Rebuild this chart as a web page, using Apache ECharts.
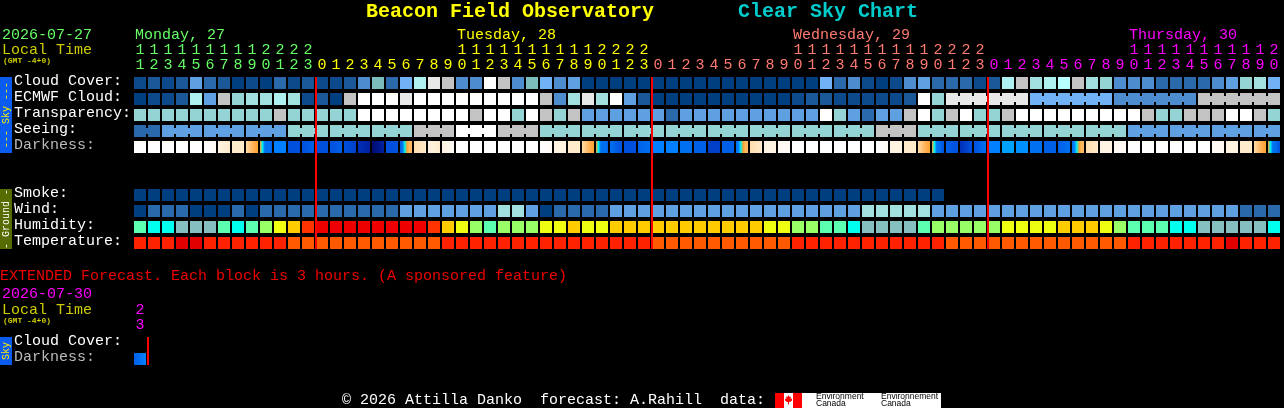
<!DOCTYPE html>
<html><head><meta charset="utf-8">
<style>html,body{margin:0;padding:0;background:#000}#c{width:1284px;height:408px}</style>
<script src="https://cdn.jsdelivr.net/npm/echarts@6/dist/echarts.min.js"></script>
</head><body><div id="c"></div>
<script>
const hours = [11,12,13,14,15,16,17,18,19,20,21,22,23,
 0,1,2,3,4,5,6,7,8,9,10,11,12,13,14,15,16,17,18,19,20,21,22,23,
 0,1,2,3,4,5,6,7,8,9,10,11,12,13,14,15,16,17,18,19,20,21,22,23,
 0,1,2,3,4,5,6,7,8,9,10,11,12,13,14,15,16,17,18,19,20];
const extHours = [23];
const dayStarts = [13,37,61];
const rowLabels = ['Cloud Cover:','ECMWF Cloud:','Transparency:','Seeing:','Darkness:','','','Smoke:','Wind:','Humidity:','Temperature:'];
const extRowLabels = ['Cloud Cover:','Darkness:'];

const skyPalette = ['#003f7f','#0c4a8b','#1a5898','#2a69ab','#4c8ccf','#5fa0e2','#70b2f5','#7dbcbc','#94d4d4','#a2e0e0','#aef0f0','#b8ffff','#c3c3c3','#e8e8e8','#ffffff'];
const humidityPalette = ['#00ffee','#5cffb0','#99ff66','#eeff11','#ffcc00','#ff3300','#ee0000','#85bfc0'];
const temperaturePalette = ['#ff2200','#e00000','#ff5a00'];
const darknessRamp = ['#ffffff','#fffaf4','#fff3e2','#ffeccc','#ffdcab','#ffb860','#ffa030','#d8e040','#00f0ee','#00a0ff','#0090ff','#0080ff','#0070f0','#0060e8','#0050dd','#0040c8','#0030b8','#0020a0','#000a70'];

const cloud = [1,2,1,2,5,3,2,0,1,0,3,1,2, 1,1,2,4,7,3,6,10, 13,12,4,4,14,12,4,7,6,4,5,
 0,0,0,0,0,0,0,0,0,0,0,0,0,0,0,0,0, 6,3,4, 1,0,1,4,5,3,3,3,1, 2,10,12,9,10,11,12,9,8, 4,4,4,3,3,3,3,4,5,8,9,6];
const ecmwf = [0,1,1,2,10,5,12,8,9,9,10,9,1,2,0,12, 14,14,14,13,14,14,14,14,14,14,14,14,14, 12,4,9,13,9,14,5,2,
 0,0,0,0,0,0,0,0,0,0, 1,2,2,1,1, 1,1,1,2,14,8, 13,13,13,13,13,13, 6,6,6,6,6,6, 4,4,4,4,4,4, 12,12,12,12,12,12];
const ecmwfBlockStarts = [58,64,70,76];
const transparency = [8,8,8,8,8,8,8,8,8,8,12,8,8,8,8,8, 14,14,14,14,14,14,14,14, 12,14,14,8,14,12,8,12,
 5,5,5,5,5,5,3,5,5,5,5,5,5,5,5,5,5, 14,8,5, 3,5,5,12,14,8,12,14,8,8,12, 14,14,14,14,14,14,14,14,14, 12,8,8,12,12,12,14,14,12,8];
const seeing = [3,3, 5,5,5,5,5,5,5,5,5, 8,8,8,8,8,8,8,8,8, 12,12,12, 14,14,14, 12,12,12,
 8,8,8,8,8,8,8,8,8,8,8,8,8,8,8,8,8,8,8,8,8,8,8,8, 12,12,12, 8,8,8,8,8,8,8,8,8,8,8,8,8,8,8, 5,5,5,5,5,5,5,5,5,5,5];
const seeingBlockStarts = [0,2,5,8,11,14,17,20,23,26,29,32,35,38,41,44,47,50,53,56,59,62,65,68,71,74,77,80];
const darkness = [[0],[0],[0],[0],[0],[0,1],[2,3],[3,3],[4,5,6],[6,8,12,12,12,13],
 [11,11],[14,14],[14,13],[14,14],[14,13],[14,15],[16,17],[18,17],[14,14],[13,12,8,6,5,5],
 [4,3],[2,3],[2,1],[0],[0],[0],[0],[0],[0],[0,1],[2,2],[3,3],[4,5,6],[6,8,12,12,12,13],
 [12,14],[14,14],[13,12],[11,11],[11,11],[12,12],[13,13],[15,15],[13,13],[12,11,8,6,5,5],
 [4,3],[2,2],[1,1],[0],[0],[0],[0],[0],[0],[0,1],[2,2],[3,3],[4,5,6],[6,8,12,12,13,14],
 [13,14],[16,14],[14,12],[11,11],[9,9],[10,10],[12,12],[13,13],[13,12],[12,11,8,6,5,5],
 [4,3],[2,2],[1,1],[0],[0],[0],[0],[0],[0],[1,1],[2,2],[3,3],[4,5,6],[6,8,12,12,13,14]];
const extDarkness = [[13,11]];
const smoke = [0,0,0,0,0,0,0,0,0,0,0,0,0,0,0,0,0,0,0,0,0,0,0,0,0,0,0,0,0,0,0,0,0,0,0,0,0,0,0,0,0,0,0,0,0,0,0,0,0,0,0,0,0,0,0,0,0,0];
const wind = [0,3,3,3,0,0,0,3,0,3,3,3,3,3,3,3,3,3,3,5,5, 5,5,5,5,5, 9,9,5,0,3,3,3,3,
 5,5,5,5,5,5,5,5,5,5,5,5,5,5,5,5,5,5, 9,9,9,9,9, 5,5,5,5,5,5,5,5,5,5,5,5,5,5,5,5,5,5,5,5,5,5, 3,3,3];
const humidity = [1,0,0,7,7,7,1,0,1,2,3,4,5, 6,6,6,6,6,6,6,6, 5,4,3,2,1,2,2,2,3,3,4,3,3,
 4,4,4,4,4,4,4,4,4,4,4, 3,3,2,2,1,1,0, 7,7,7,7,1,2,2,2,2,2, 3,3,3,3,4,4,4,3,2,1,1,1,0,0,7,7,7,7,7,0];
const temperature = [0,0,0,1,1,0,0,0,0,0,0, 2,2,2,2,2,2,2,2,2,2,2, 0,0,0,0,0,0,0,0,0,0,0,0,0,0,0,
 2,2,2,2,2,2,2,2,2,2, 0,0,0,0,0,0,0,0,0,0,0, 2,2,2,2,2,2,2,2,2,2,2,2,2, 0,0,0,0,0,0,0,1,0,0,0];

const FONT = '"Liberation Mono","DejaVu Sans Mono",monospace';
const dayColors = ['#66ff66','#ffff00','#ff7a70','#ff00ff'];
function dayColor(col){let d=0;dayStarts.forEach((s,i)=>{if(col>=s)d=i+1;});return dayColors[d];}

function cellSeries(values,row,palette,blockStarts,xi,yi){
  return {type:'custom',xAxisIndex:xi||0,yAxisIndex:yi||0,clip:false,silent:true,
    data:values.map((v,i)=>[i,row,v]),encode:{x:0,y:1},
    renderItem(p,api){
      const col=api.value(0),c=api.coord([col,api.value(1)]),s=api.size([1,1]);
      const fill=palette[api.value(2)];
      const w=s[0]-2,h=s[1]-4,x=c[0]-w/2,y=c[1]-h/2;
      const kids=[{type:'rect',shape:{x,y,width:w,height:h},style:{fill}}];
      if(blockStarts && col>=blockStarts[0] && col<values.length-1 && !blockStarts.includes(col+1))
        kids.push({type:'rect',shape:{x:x+w,y:y+3,width:2,height:h-6},style:{fill}});
      return {type:'group',children:kids};
    }};
}
function darkSeries(samples,row,xi,yi){
  return {type:'custom',xAxisIndex:xi||0,yAxisIndex:yi||0,clip:false,silent:true,
    data:samples.map((v,i)=>[i,row]),encode:{x:0,y:1},
    renderItem(p,api){
      const col=api.value(0),c=api.coord([col,api.value(1)]),s=api.size([1,1]);
      const w=s[0]-2,h=s[1]-4,lv=samples[col];
      const fill=lv.length===1?darknessRamp[lv[0]]:new echarts.graphic.LinearGradient(0,0,1,0,
        lv.map((l,i)=>({offset:i/(lv.length-1),color:darknessRamp[l]})));
      return {type:'rect',shape:{x:c[0]-w/2,y:c[1]-h/2,width:w,height:h},style:{fill}};
    }};
}
function dayLine(starts,r0,r1,xi,yi){
  return {type:'custom',xAxisIndex:xi||0,yAxisIndex:yi||0,clip:false,silent:true,z:10,
    data:starts.map(v=>[v]),encode:{x:0},
    renderItem(p,api){
      const v=api.value(0),s=api.size([1,1]);
      const x=api.coord([v-1,r0])[0]+s[0]/2;
      const top=api.coord([0,r0])[1]-(s[1]-4)/2, bot=api.coord([0,r1])[1]+(s[1]-4)/2;
      return {type:'rect',shape:{x,y:top,width:2,height:bot-top},style:{fill:'#ff0000'}};
    }};
}
function hourAxis(gridIndex,list,tens,colorFn){
  return {type:'category',gridIndex,position:'top',data:list.map(String),offset:tens?15:0,
    axisLine:{show:false},axisTick:{show:false},splitLine:{show:false},
    axisLabel:{show:true,interval:0,margin:2,fontFamily:FONT,fontSize:15,hideOverlap:false,
      formatter:v=>{const n=+v;return tens?(n>=10?String(Math.floor(n/10)):''):String(n%10);},
      color:(v,i)=>colorFn(i)}};
}
function rowAxis(gridIndex,labels){
  return {type:'category',gridIndex,inverse:true,data:labels,position:'left',
    axisLine:{show:false},axisTick:{show:false},splitLine:{show:false},
    axisLabel:{show:true,interval:0,align:'left',verticalAlign:'bottom',lineHeight:4,margin:119,fontFamily:FONT,fontSize:15,
      color:v=>v==='Darkness:'?'#bbbbbb':'#ffffff'}};
}
function txt(x,y,text,fill,font,extra){
  return Object.assign({type:'text',x,y,silent:true,z:20,style:{text,fill,font,align:'left',verticalAlign:'middle'}},extra||{});
}
const f15='15px '+FONT, fb20='bold 20px '+FONT, fb8='bold 8px '+FONT, f10='10px '+FONT;
function vtxt(x,y,text,fill){
  return {type:'text',x,y,rotation:Math.PI/2,silent:true,z:20,style:{text,fill,font:f10,align:'center',verticalAlign:'middle'}};
}
function rect(x,y,w,h,fill){return {type:'rect',silent:true,z:5,shape:{x,y,width:w,height:h},style:{fill}};}

const chart=echarts.init(document.getElementById('c'),null,{renderer:'canvas',devicePixelRatio:1});
chart.setOption({
  backgroundColor:'#000',animation:false,tooltip:{show:false},
  grid:[{left:133,top:75,width:1148,height:176,containLabel:false},
        {left:133,top:335,width:14,height:32,containLabel:false}],
  xAxis:[hourAxis(0,hours,false,dayColor),hourAxis(0,hours,true,dayColor),
         hourAxis(1,extHours,false,()=>'#ff00ff'),hourAxis(1,extHours,true,()=>'#ff00ff')],
  yAxis:[rowAxis(0,rowLabels),rowAxis(1,extRowLabels)],
  series:[
    cellSeries(cloud,0,skyPalette),
    cellSeries(ecmwf,1,skyPalette,ecmwfBlockStarts),
    cellSeries(transparency,2,skyPalette),
    cellSeries(seeing,3,skyPalette,seeingBlockStarts),
    darkSeries(darkness,4),
    cellSeries(smoke,7,skyPalette),
    cellSeries(wind,8,skyPalette),
    cellSeries(humidity,9,humidityPalette),
    cellSeries(temperature,10,temperaturePalette),
    dayLine(dayStarts,0,10),
    darkSeries(extDarkness,1,2,1),
    dayLine([1],0,1,2,1)
  ],
  graphic:[
    txt(366,12,'Beacon Field Observatory','#ffff00',fb20),
    txt(738,12,'Clear Sky Chart','#00cccc',fb20),
    txt(2,35,'2026-07-27','#66ff66',f15),
    txt(2,50,'Local Time','#cccc00',f15),
    txt(3,61,'(GMT -4+0)','#cccc00',fb8),
    txt(135,35,'Monday, 27',dayColors[0],f15),
    txt(457,35,'Tuesday, 28',dayColors[1],f15),
    txt(793,35,'Wednesday, 29',dayColors[2],f15),
    txt(1129,35,'Thursday, 30',dayColors[3],f15),
    rect(0,77,12,76,'#0a5cf0'), vtxt(6,115,'--- Sky ---','#ffee00'),
    rect(0,189,12,60,'#566b00'), vtxt(6,219,'- Ground -','#ffffff'),
    txt(0,276,'EXTENDED Forecast. Each block is 3 hours. (A sponsored feature)','#ee0000',f15),
    txt(2,294,'2026-07-30','#ff00ff',f15),
    txt(2,310,'Local Time','#cccc00',f15),
    txt(3,321,'(GMT -4+0)','#cccc00',fb8),
    rect(0,337,12,28,'#0a5cf0'), vtxt(6,351,'Sky','#ffee00'),
    txt(342,400,'\u00a9 2026 Attilla Danko  forecast: A.Rahill  data:','#ffffff',f15),
    rect(775,393,166,15,'#ffffff'),
    rect(775,393,9,15,'#ff0000'), rect(793,393,9,15,'#ff0000'),
    {type:'polygon',silent:true,z:6,shape:{points:[[788.5,395],[789.5,397],[791,396.5],[790.5,399],[792,398.5],[792,400.5],[790,402],[789,402],[789,404.5],[788,404.5],[788,402],[787,402],[785,400.5],[785,398.5],[786.5,399],[786,396.5],[787.5,397]]},style:{fill:'#ff0000'}},
    txt(816,397,'Environment','#000000','8.5px "Liberation Sans"'),
    txt(816,404,'Canada','#000000','8.5px "Liberation Sans"'),
    txt(881,397,'Environnement','#000000','8.5px "Liberation Sans"'),
    txt(881,404,'Canada','#000000','8.5px "Liberation Sans"')
  ]
});
</script></body></html>
